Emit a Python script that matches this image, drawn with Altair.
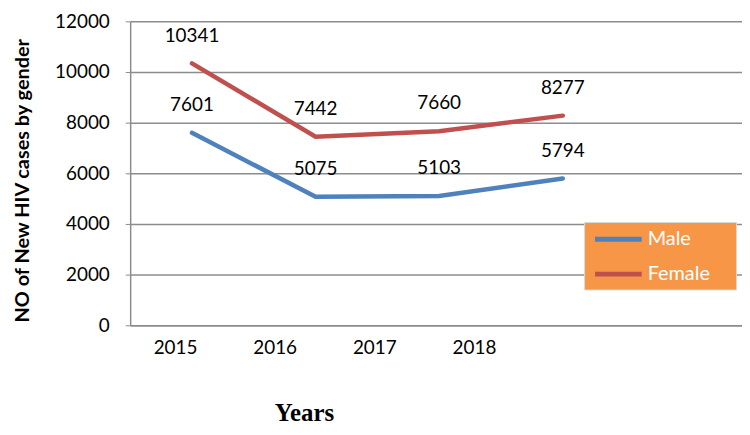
import altair as alt
import pandas as pd

years = [2015, 2016, 2017, 2018]
male = [7601, 5075, 5103, 5794]
female = [10341, 7442, 7660, 8277]
y_ticks = [0, 2000, 4000, 6000, 8000, 10000, 12000]

rows = []
for g, vals in [("Male", male), ("Female", female)]:
    for yr, v in zip(years, vals):
        rows.append({"year": yr, "gender": g, "value": v})
df = pd.DataFrame(rows)
df_years = pd.DataFrame({"year": years})

FONT = "Lato"
GRAY = "#8c8c8c"
ORANGE = "#F79646"

x_data = alt.X("year:Q", scale=alt.Scale(domain=[2014.5, 2019.45], nice=False, zero=False), axis=None)
y_enc = alt.Y(
    "value:Q",
    scale=alt.Scale(domain=[0, 12000], nice=False),
    axis=alt.Axis(
        values=y_ticks,
        format="d",
        title="NO of New HIV cases by gender",
        titleFont=FONT,
        titleFontSize=20,
        titleFontWeight="bold",
        titleColor="black",
        titleX=-98,
        titleY=160,
        labelFont=FONT,
        labelFontSize=19,
        labelColor="black",
        labelPadding=16,
        gridColor=GRAY,
        gridWidth=1.5,
        domainColor=GRAY,
        domainWidth=1.5,
        tickColor=GRAY,
        tickSize=5,
    ),
)

color = alt.Color(
    "gender:N",
    scale=alt.Scale(domain=["Male", "Female"], range=["#4F81BD", "#C0504D"]),
    legend=alt.Legend(
        orient="none",
        legendX=457,
        legendY=202,
        title="MM",
        titleOrient="right",
        titleColor=ORANGE,
        titleFontSize=10,
        titlePadding=4,
        fillColor=ORANGE,
        strokeColor="#d9d9d9",
        padding=5,
        labelColor="white",
        labelFont=FONT,
        labelFontSize=20,
        labelOffset=17,
        symbolType="M-2.35,0L2.35,0",
        symbolSize=400,
        symbolOffset=17,
        symbolStrokeWidth=5,
        rowPadding=12,
    ),
)

lines = alt.Chart(df).mark_line(strokeWidth=4.5, strokeCap="round").encode(
    x=x_data, y=y_enc, color=color, detail="gender:N"
)

labels = alt.Chart(df).mark_text(
    dy=-28, fontSize=19, font=FONT, color="black", baseline="middle"
).encode(x=x_data, y=alt.Y("value:Q"), text="value:Q")

x_axis_layer = alt.Chart(df_years).mark_point(opacity=0).encode(
    x=alt.X(
        "year:Q",
        scale=alt.Scale(domain=[2014.55, 2020.69], nice=False, zero=False),
        axis=alt.Axis(
            values=years,
            format="d",
            title="Years",
            titleFont="Liberation Serif",
            titleFontSize=25,
            titleFontWeight="bold",
            titleColor="black",
            titleX=175,
            titleY=76,
            labelFont=FONT,
            labelFontSize=19,
            labelColor="black",
            labelPadding=13,
            ticks=False,
            grid=False,
            domainColor=GRAY,
            domainWidth=1.5,
        ),
    )
)

chart = (
    alt.layer(lines, labels, x_axis_layer)
    .resolve_scale(x="independent")
    .properties(width=616, height=306, padding={"left": 4, "top": 3, "right": 0, "bottom": 0})
    .configure_view(stroke=None)
)

chart.save("out.html", embed_options={"renderer": "svg", "actions": False})
